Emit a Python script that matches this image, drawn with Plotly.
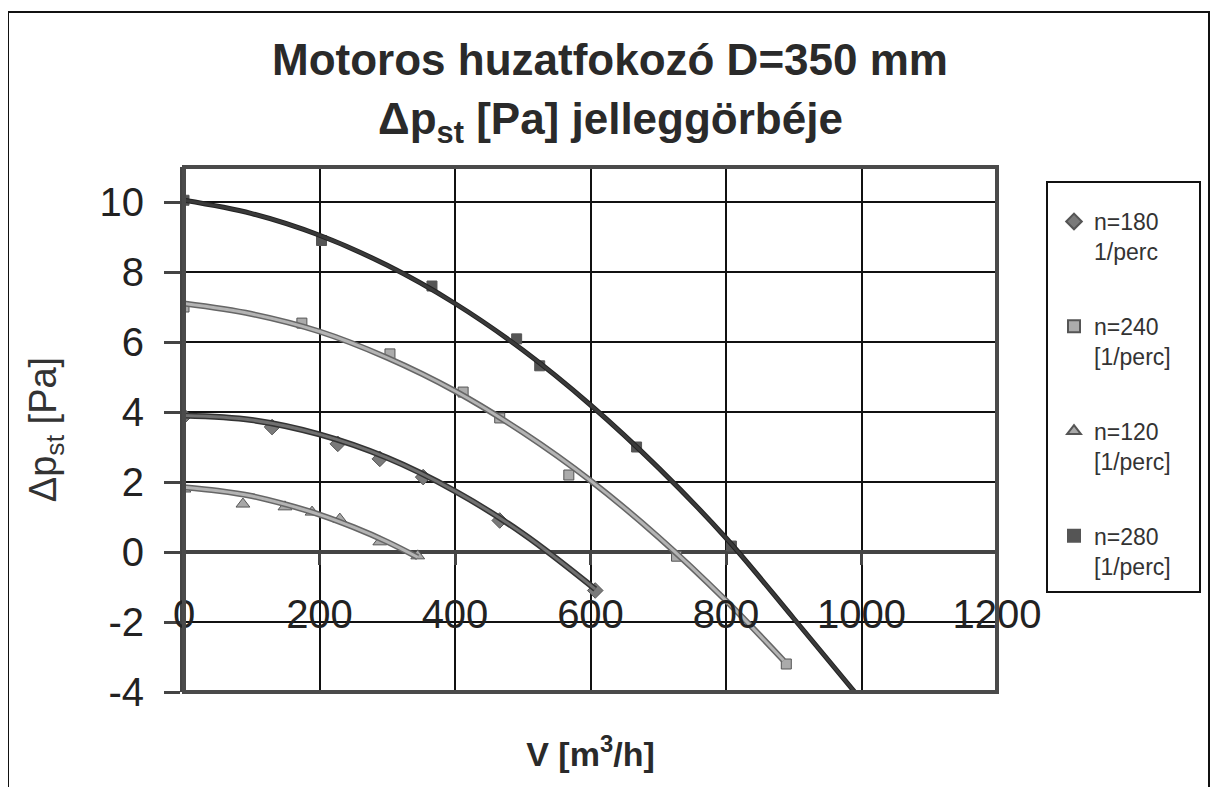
import plotly.graph_objects as go

# ---- data ----
V_180 = [0, 130, 227, 289, 353, 466, 607]
P_180 = [3.88, 3.57, 3.09, 2.66, 2.14, 0.90, -1.10]
V_240 = [0, 174, 304, 412, 466, 568, 727, 889]
P_240 = [7.00, 6.54, 5.66, 4.57, 3.83, 2.20, -0.12, -3.20]
V_120 = [0, 87, 149, 189, 230, 289, 345]
P_120 = [1.80, 1.37, 1.29, 1.14, 0.94, 0.29, -0.11]
V_280 = [0, 203, 366, 491, 525, 668, 808]
P_280 = [10.05, 8.90, 7.60, 6.09, 5.32, 3.00, 0.17]

# trend curves
T280_V = [0, 100, 200, 300, 400, 500, 600, 700, 800, 900, 990]
T280_P = [10.05, 9.67, 9.05, 8.19, 7.10, 5.77, 4.20, 2.41, 0.40, -1.90, -4.00]
T240_V = [0, 100, 200, 300, 400, 500, 600, 700, 800, 885]
T240_P = [7.10, 6.80, 6.30, 5.55, 4.60, 3.42, 2.04, 0.43, -1.39, -3.10]
T180_V = [0, 100, 200, 300, 400, 500, 607]
T180_P = [3.90, 3.77, 3.36, 2.69, 1.74, 0.53, -1.06]
T120_V = [0, 50, 100, 150, 200, 250, 300, 345]
T120_P = [1.85, 1.75, 1.60, 1.36, 1.07, 0.71, 0.29, -0.15]

X_TICKS = [0, 200, 400, 600, 800, 1000, 1200]
X_LABELS = ["0", "200", "400", "600", "800", "1000", "1200"]
Y_TICKS = [-4, -2, 0, 2, 4, 6, 8, 10]
Y_LABELS = ["-4", "-2", "0", "2", "4", "6", "8", "10"]

NAMES = ["n=180<br>1/perc", "n=240<br>[1/perc]", "n=120<br>[1/perc]", "n=280<br>[1/perc]"]

FONT = "Liberation Sans, Arial, sans-serif"

fig = go.Figure()

# trend curves (drawn on overlay axis x2)
def curve(xs, ys, under, top, wu, wt):
    fig.add_trace(go.Scatter(x=xs, y=ys, mode="lines", line=dict(color=under, width=wu, shape="spline"),
                             showlegend=False, hoverinfo="skip", xaxis="x2", yaxis="y"))
    fig.add_trace(go.Scatter(x=xs, y=ys, mode="lines", line=dict(color=top, width=wt, shape="spline"),
                             showlegend=False, hoverinfo="skip", xaxis="x2", yaxis="y"))

curve(T280_V, T280_P, "#222222", "#3a3a3a", 5, 3)
curve(T240_V, T240_P, "#666666", "#b4b4b4", 6, 3)
curve(T180_V, T180_P, "#333333", "#707070", 6, 3)
curve(T120_V, T120_P, "#666666", "#b4b4b4", 6, 3)

# data markers
series = [
    (V_180, P_180, NAMES[0], "diamond", "#7a7a7a", 12),
    (V_240, P_240, NAMES[1], "square", "#ababab", 10),
    (V_120, P_120, NAMES[2], "triangle-up", "#a8a8a8", 12),
    (V_280, P_280, NAMES[3], "square", "#555555", 10),
]
for i, (xs, ys, nm, sym, col, sz) in enumerate(series):
    fig.add_trace(go.Scatter(x=xs, y=ys, mode="markers", name=nm, legendgroup=str(i),
                             marker=dict(symbol=sym, color=col, size=sz,
                                         line=dict(color="#555555", width=1))))

# page has an 8px body margin: target pixel coords are shifted by OFF
OFF = 8
W, H = 1221, 787
L = 184 - OFF
T = 167 - OFF
R = W - (997 - OFF)
B = H - (692 - OFF)
pw, ph = W - L - R, H - T - B

def px_x(px):
    return (px - OFF - L) / pw

def px_y(py):
    return (H - B - (py - OFF)) / ph

shapes = [
    # outer chart border
    dict(type="rect", xref="paper", yref="paper", x0=px_x(8), x1=px_x(1209), y0=px_y(800), y1=px_y(12),
         line=dict(color="#111111", width=2), layer="below"),
    # plot area border
    dict(type="rect", xref="paper", yref="paper", x0=0, x1=1, y0=0, y1=1,
         line=dict(color="#4a4a4a", width=4)),
    # legend box
    dict(type="rect", xref="paper", yref="paper", x0=px_x(1047), x1=px_x(1200), y0=px_y(592), y1=px_y(182),
         line=dict(color="#111111", width=2)),
]

annotations = [
    dict(text="<b>Motoros huzatfokozó D=350 mm</b>", xref="paper", yref="paper",
         x=px_x(610), y=px_y(60), xanchor="center", yanchor="middle", showarrow=False,
         font=dict(size=44, color="#2a2a2a", family=FONT)),
    dict(text="<b>Δp<sub>st</sub> [Pa] jelleggörbéje</b>", xref="paper", yref="paper",
         x=px_x(610), y=px_y(122), xanchor="center", yanchor="middle", showarrow=False,
         font=dict(size=44, color="#2a2a2a", family=FONT)),
]

fig.update_layout(
    width=W, height=H,
    margin=dict(l=L, r=R, t=T, b=B, autoexpand=False),
    paper_bgcolor="white", plot_bgcolor="white",
    font=dict(family=FONT, color="#222222"),
    showlegend=True,
    legend=dict(x=px_x(1054), y=px_y(200), xanchor="left", yanchor="top",
                bgcolor="rgba(0,0,0,0)", borderwidth=0, valign="top",
                font=dict(size=23, color="#333333", family=FONT),
                tracegroupgap=42, itemsizing="constant"),
    shapes=shapes,
    annotations=annotations,
    xaxis=dict(range=[0, 1200], tickvals=X_TICKS, showticklabels=False, ticks="",
               showgrid=True, gridcolor="#111111", gridwidth=1.5, zeroline=False, showline=False,
               title=dict(text="<b>V [m<sup>3</sup>/h]</b>", font=dict(size=34, color="#2a2a2a"), standoff=50)),
    xaxis2=dict(range=[0, 1200], overlaying="x", anchor="free", position=4 / 15, side="bottom",
                tickvals=X_TICKS, ticktext=X_LABELS, ticks="outside", ticklen=12, tickwidth=3,
                tickcolor="#444444", tickfont=dict(size=40, color="#222222"), ticklabelstandoff=15,
                showgrid=False, zeroline=False, showline=False),
    yaxis=dict(range=[-4, 11], tickvals=Y_TICKS, ticktext=Y_LABELS, ticks="outside", ticklen=16, tickwidth=3,
               tickcolor="#444444", tickfont=dict(size=40, color="#222222"), ticklabelstandoff=12,
               showgrid=True, gridcolor="#111111", gridwidth=1.5,
               zeroline=True, zerolinecolor="#444444", zerolinewidth=4,
               showline=True, linecolor="#444444", linewidth=4,
               title=dict(text="Δp<sub>st</sub> [Pa]", font=dict(size=38, color="#333333"), standoff=32)),
)

fig.write_html("out.html")
